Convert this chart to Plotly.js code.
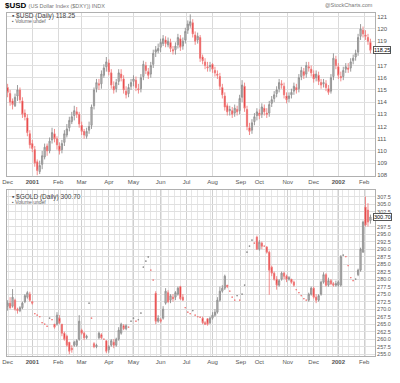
<!DOCTYPE html>
<html><head><meta charset="utf-8">
<script src="https://cdn.plot.ly/plotly-3.0.1.min.js"></script>
<style>html,body{margin:0;padding:0;background:#fff}#chart{width:400px;height:383px}</style>
</head><body><div id="chart"></div>
<script>
// trading calendar (exchange holidays, incl. the Sept 11-14 2001 closure)
const holidays = ['2000-12-25','2001-01-01','2001-01-15','2001-02-19','2001-04-13','2001-05-28','2001-07-04','2001-09-03','2001-09-11','2001-09-12','2001-09-13','2001-09-14','2001-11-22','2001-12-25','2002-01-01','2002-01-21'];
const monthLabels = ['Dec','<b>2001</b>','Feb','Mar','Apr','May','Jun','Jul','Aug','Sep','Oct','Nov','Dec','<b>2002</b>','Feb'];
const usdTicks = [108,109,110,111,112,113,114,115,116,117,118,119,120,121];
const usdTickText = ['108','109','110','111','112','113','114','115','116','117','','119','120','121'];
const goldTicks = [255,257.5,260,262.5,265,267.5,270,272.5,275,277.5,280,282.5,285,287.5,290,292.5,295,297.5,300,302.5,305,307.5];
const goldTickText = ['255.0','257.5','260.0','262.5','265.0','267.5','270.0','272.5','275.0','277.5','280.0','282.5','285.0','287.5','290.0','292.5','295.0','297.5','','302.5','305.0','307.5'];
const usdLast = 118.25, goldLast = 300.70;

// $USD candles (one per two trading days)
const usdOpen = [115.2,114.7,114.1,113.7,114.5,115.0,114.1,113.1,112.7,111.4,
110.6,110.1,109.1,108.3,108.9,109.5,110.4,110.0,110.9,111.4,
111.0,110.4,110.1,110.7,111.3,111.9,112.4,112.9,113.2,113.0,
112.1,111.6,111.2,111.7,112.1,113.7,115.1,115.5,115.5,116.2,
116.9,117.2,116.4,115.3,115.1,115.7,116.3,115.9,114.9,114.7,
115.3,115.7,115.8,115.1,115.1,116.1,117.0,116.5,116.3,117.1,
118.1,118.2,118.5,118.8,119.1,118.7,118.9,118.3,118.3,118.7,
119.2,118.6,119.1,119.9,120.3,120.5,119.5,119.1,119.3,117.7,
117.3,116.9,116.9,117.1,116.6,116.3,116.1,115.2,114.5,113.7,
113.3,113.3,113.1,113.4,113.3,114.4,115.3,113.4,111.9,111.7,
112.4,112.9,113.1,113.0,113.5,113.1,113.1,113.9,114.3,114.7,
115.1,115.5,115.3,114.5,114.3,114.6,114.9,115.2,115.1,116.1,
116.5,116.3,116.9,116.7,116.3,116.0,116.2,115.6,115.5,115.5,
115.1,114.9,116.1,117.5,116.9,116.1,116.1,116.7,116.8,116.8,
117.4,117.7,118.1,119.4,119.9,119.5,119.3,118.9];
const usdHigh = [115.5,115.0,114.3,114.7,115.4,115.2,114.4,113.4,113.0,111.7,
110.9,110.4,109.3,109.2,110.0,110.6,110.6,111.1,111.9,111.8,
111.2,110.7,110.9,111.7,112.2,112.8,113.2,113.7,113.6,113.2,
112.4,111.8,111.9,112.4,113.8,115.2,115.9,115.9,116.6,117.1,
117.7,117.5,116.7,115.7,115.9,116.7,116.7,116.2,115.3,115.5,
115.9,116.2,116.1,115.5,116.3,117.4,117.3,116.8,117.3,118.3,
118.6,118.8,119.2,119.5,119.4,119.3,119.2,118.6,118.9,119.6,
119.5,119.3,120.1,120.7,121.2,120.8,119.8,119.7,119.5,117.9,
117.6,117.3,117.3,117.2,116.9,116.6,116.4,115.5,114.8,113.9,
113.7,113.6,113.8,113.7,114.6,115.8,115.6,113.7,112.3,112.6,
113.1,113.5,113.4,113.9,113.8,113.5,114.1,114.5,114.9,115.3,
115.9,115.8,115.6,114.8,114.8,115.1,115.6,115.5,116.3,116.9,
116.8,117.3,117.3,117.0,116.6,116.6,116.5,115.9,115.9,115.8,
115.4,116.3,118.0,117.8,117.2,116.5,116.9,117.2,117.2,117.6,
117.9,118.3,119.6,120.4,120.2,119.9,119.6,119.2];
const usdLow = [114.4,113.7,113.4,113.6,114.1,113.9,112.7,112.5,111.2,110.2,
109.9,108.7,108.0,108.1,108.5,109.3,109.6,109.8,110.6,110.7,
110.1,109.7,109.8,110.4,111.1,111.6,112.2,112.5,112.7,111.9,
111.3,111.0,111.0,111.4,111.8,113.4,114.8,115.0,115.1,116.0,
116.5,116.2,115.1,114.7,114.8,115.4,115.7,114.7,114.3,114.4,
115.0,115.3,114.9,114.7,114.8,115.8,116.3,115.9,116.0,116.8,
117.7,118.0,118.1,118.6,118.5,118.5,118.1,117.9,117.9,118.4,
118.2,118.3,118.8,119.6,120.1,119.3,118.7,118.8,117.3,117.1,
116.7,116.5,116.5,116.4,116.1,115.9,115.0,114.3,113.3,112.9,
112.9,112.7,112.8,112.9,113.0,114.0,113.2,111.7,111.3,111.4,
112.1,112.5,112.6,112.7,112.9,112.7,112.8,113.6,114.0,114.4,
114.8,115.1,114.3,113.9,114.0,114.3,114.6,114.7,114.8,115.8,
115.9,116.0,116.5,116.1,115.6,115.7,115.4,115.1,115.2,114.9,
114.6,114.7,115.8,116.7,115.9,115.7,115.8,116.4,116.4,116.5,
117.1,117.4,117.8,119.1,119.3,119.1,118.7,118.0];
const usdClose = [114.8,114.0,113.8,114.4,115.0,114.2,113.0,112.8,111.5,110.5,
110.2,109.0,108.4,108.8,109.6,110.3,110.0,110.8,111.5,111.0,
110.5,110.0,110.6,111.4,111.8,112.5,112.8,113.3,113.0,112.2,
111.6,111.3,111.6,112.0,113.6,115.0,115.6,115.4,116.3,116.8,
117.3,116.5,115.4,115.0,115.6,116.4,116.0,115.0,114.6,115.2,
115.6,115.9,115.2,115.0,116.0,117.1,116.6,116.2,117.0,118.0,
118.3,118.4,118.9,119.2,118.8,119.0,118.4,118.2,118.6,119.3,
118.5,119.0,119.8,120.4,120.6,119.6,119.0,119.4,117.6,117.4,
117.0,116.8,117.0,116.7,116.4,116.2,115.3,114.6,113.6,113.2,
113.4,113.0,113.5,113.2,114.3,115.4,113.5,112.0,111.6,112.3,
112.8,113.2,112.9,113.6,113.2,113.0,113.8,114.2,114.6,115.0,
115.6,115.4,114.6,114.2,114.5,114.8,115.3,115.0,116.0,116.6,
116.2,117.0,116.8,116.4,115.9,116.3,115.7,115.4,115.6,115.2,
114.8,116.0,117.6,117.0,116.2,116.0,116.6,116.9,116.7,117.3,
117.6,118.0,119.3,120.0,119.6,119.4,119.0,118.25];

// $GOLD candles (one per two trading days; flat entries are single-price days)
const goldOpen = [271,272,271,273,270,269.5,270.5,272.5,274,275,
272.5,268.5,268,267.5,265.5,265,264.3,267,266.5,265,
265,267,265,262,261,259,257,258,258,260,
263,262,260.5,272,267,258.5,257.5,260.5,261.5,260,
259.5,256.5,258,259,258,260,262,264.5,263.5,264,
266,267,266,266.5,268.7,284,286,287.4,283,279.7,
275.3,266,266.5,267,272,275.5,273,274,274,275,
277.5,274,270.5,269,268.5,269.5,268,267.5,267.3,267,
265.5,266.8,265.5,267,268,269,273,276,277,278,
276,274,273,274.5,273,275,278,289,291,293,
292,294,290,292,291,290.7,289,284,282,280,
278,280,282,281,280,280,279,276.5,275.5,274.5,
273.5,273,273,275,277,274,273,275,279,281.5,
278,279.5,278.5,278,278,278,288,287.5,284.5,280.5,
279.5,280,281.5,283,289,304,303,299.5];
const goldHigh = [273,274,276.7,273.5,270.5,271,272.5,275,276,275.8,
272.5,268.5,268,267.5,265.5,265,264.3,267,266.5,265,
269,268,265,262.5,261.5,259,258,259.5,260,268,
263.5,262.5,261.5,272,267,259,258.5,262.5,262,260,
259.5,258,260,260,260.5,264,265.5,265,265,264,
266,267,266,266.5,268.7,284,286,287.4,283,279.7,
276,268,267,271,277,276.3,275,275,276,277.5,
277.8,275,270.5,269,268.5,269.5,268,267.5,267.3,267.5,
266,267,267.5,269,270,274,277.5,278,281.5,278,
276,274,273,274.5,273,275,278,289,291,293,
292,294.5,293,292.5,291,291,289.5,284.5,282.5,281,
280,282.5,282.5,281.5,281,280,279.5,276.5,275.5,274.5,
273.5,273,275.5,277.5,277.5,275,275,279.5,282.3,282,
280.5,280,279,279.5,279.5,288,288,287.5,284.5,280.5,
279.5,280,283.5,290.5,299.5,307.5,305.3,301.5];
const goldLow = [269.5,270,270.5,269.5,268.5,269,270,272,273.5,272.5,
271.5,268.5,268,267.5,265.5,265,264.3,267,266.5,263.5,
264.5,265,261,259.5,257.5,255,255.5,257.5,257.5,259.5,
261.5,259.7,260,272,267,257,257,260,260,260,
255.3,255.5,257.5,257,257.5,259.5,261.5,263,263,264,
266,267,266,266.5,268.7,284,286,287.4,283,279.7,
265,265.5,265.5,266.5,271.5,272,272,272.5,273,274.5,
273,273,270.5,269,268.5,269.5,268,267.5,267.3,265,
264.7,264.5,265,266.5,267.5,268.5,272.5,275.5,276.4,277,
276,274,273,274.5,273,275,278,289,291,293,
292,289.8,289.5,290,291,288.5,274.8,281,279.5,276.5,
277.5,279.5,280,279,279.5,278.5,277.5,276.5,275.5,274.5,
273.5,273,272.5,274.5,273.5,272,272.5,274.5,278.5,277.5,
277.5,278,277.5,277.5,277.5,277.5,288,287.5,284.5,280.5,
279.5,280,281,282.5,288.8,297.5,297.5,298.5];
const goldClose = [272,270.5,274,270,269.5,270.5,272,274.5,275.5,273,
272,268.5,268,267.5,265.5,265,264.3,267,266.5,264,
268,265.5,262,260,258,256,256.5,259,259.5,266,
262,260.5,261,272,267,257.5,258,262,260.5,260,
256,257.5,259.5,258,260,263,265,263.5,264.5,264,
266,267,266,266.5,268.7,284,286,287.4,283,279.7,
266,267,266,270,276,272.5,274.5,273.5,275.5,277,
273.5,273,270.5,269,268.5,269.5,268,267.5,267.3,265.5,
265,265,267,268,269,273,276,277,281,277.5,
276,274,273,274.5,273,275,278,289,291,293,
292,290,292.3,291,291,289,283,282,280,278,
279.5,282,281,280,280.5,279,278,276.5,275.5,274.5,
273.5,273,275,277,274,273,274.5,279,281.5,278,
279.5,278.5,278,278.5,279,287.5,288,287.5,284.5,280.5,
279.5,280,283,290,299,298,299,300.7];

// ---- calendar helpers ----
function buildDays(){
  const out=[]; const start=Date.UTC(2000,11,1), end=Date.UTC(2002,1,8);
  for(let t=start;t<=end;t+=86400000){
    const d=new Date(t), wd=d.getUTCDay(), s=d.toISOString().slice(0,10);
    if(wd>0&&wd<6&&holidays.indexOf(s)<0) out.push(s);
  }
  return out;
}
const days=buildDays();
const candleDates=days.filter((d,i)=>i%2===0);
const xPos=candleDates.map(d=>days.indexOf(d));
const monthIdx=[]; days.forEach((d,i)=>{ if(i===0||d.slice(0,7)!==days[i-1].slice(0,7)) monthIdx.push(i); });
const weekIdx=[]; days.forEach((d,i)=>{ if(i>0 && new Date(d+'T00:00:00Z').getUTCDay()<=new Date(days[i-1]+'T00:00:00Z').getUTCDay()) weekIdx.push(i); });

const incStyle={line:{color:'#8f8f8f',width:0.9},fillcolor:'#c4c4c4'};
const decStyle={line:{color:'#f08080',width:0.9},fillcolor:'#dd0000'};

const traces=[
 {type:'candlestick',x:xPos,open:usdOpen,high:usdHigh,low:usdLow,close:usdClose,xaxis:'x',yaxis:'y',
  increasing:incStyle,decreasing:decStyle,whiskerwidth:0,hoverinfo:'skip',showlegend:false},
 {type:'candlestick',x:xPos,open:goldOpen,high:goldHigh,low:goldLow,close:goldClose,xaxis:'x2',yaxis:'y2',
  increasing:incStyle,decreasing:decStyle,whiskerwidth:0,hoverinfo:'skip',showlegend:false}
];

const xBase={range:[-0.5,297.7],tickmode:'array',tickvals:monthIdx,ticktext:monthLabels,showgrid:true,
  gridcolor:'#dadada',gridwidth:1,zeroline:false,showline:true,linecolor:'#b0b0b0',mirror:true,ticks:'',
  rangeslider:{visible:false},tickfont:{size:6,color:'#555'},fixedrange:true};
const yBase={side:'right',tickmode:'array',showgrid:true,gridcolor:'#e0e0e0',zeroline:false,showline:true,
  linecolor:'#b0b0b0',mirror:true,ticks:'',tickfont:{size:6,color:'#555'},fixedrange:true};

const layout={
 width:400,height:383,margin:{l:7,r:25,t:13,b:27},paper_bgcolor:'#fff',plot_bgcolor:'#fff',showlegend:false,
 font:{family:'Liberation Sans, Arial, sans-serif',size:6,color:'#555'},
 xaxis:Object.assign({},xBase,{anchor:'y',domain:[0,1]}),
 yaxis:Object.assign({},yBase,{anchor:'x',domain:[0.5248,1],range:[107.94,121.31],tickvals:usdTicks,ticktext:usdTickText}),
 xaxis2:Object.assign({},xBase,{anchor:'y2',domain:[0,1],gridcolor:'#cfcfcf',
   minor:{tickmode:'array',tickvals:weekIdx,showgrid:true,gridcolor:'#e6e6e6',gridwidth:1}}),
 yaxis2:Object.assign({},yBase,{anchor:'x2',domain:[0,0.484],range:[254.4,309.7],tickvals:goldTicks,ticktext:goldTickText,tickfont:{size:5.5,color:'#555'}}),
 annotations:[
  {xref:'paper',yref:'paper',x:-0.01,y:1.0233,xanchor:'left',yanchor:'middle',showarrow:false,
   text:"<b>$USD</b> <span style='font-size:5.5px;color:#777'>(US Dollar Index ($DXY)) INDX</span>",font:{size:8,color:'#000'}},
  {xref:'paper',yref:'paper',x:1,y:1.0233,xanchor:'right',yanchor:'middle',showarrow:false,
   text:'@StockCharts.com',font:{size:5.5,color:'#777'}},
  {xref:'paper',yref:'paper',x:0.008,y:0.9913,xanchor:'left',yanchor:'middle',showarrow:false,
   text:'▪ $USD (Daily) '+usdLast.toFixed(2),font:{size:6.5,color:'#444'}},
  {xref:'paper',yref:'paper',x:0.008,y:0.9767,xanchor:'left',yanchor:'middle',showarrow:false,
   text:'▪ Volume undef',font:{size:5,color:'#666'}},
  {xref:'paper',yref:'paper',x:0.008,y:0.4636,xanchor:'left',yanchor:'middle',showarrow:false,
   text:'▪ $GOLD (Daily) '+goldLast.toFixed(2),font:{size:6.5,color:'#444'}},
  {xref:'paper',yref:'paper',x:0.008,y:0.449,xanchor:'left',yanchor:'middle',showarrow:false,
   text:'▪ Volume undef',font:{size:5,color:'#666'}},
  {xref:'paper',yref:'y',x:1,y:usdLast,xanchor:'left',yanchor:'middle',xshift:-2,showarrow:false,
   text:usdLast.toFixed(2),font:{size:5.5,color:'#000'},bgcolor:'#fff',bordercolor:'#555',borderwidth:1,borderpad:0},
  {xref:'paper',yref:'y2',x:1,y:goldLast,xanchor:'left',yanchor:'middle',xshift:-2,showarrow:false,
   text:goldLast.toFixed(2),font:{size:5.5,color:'#000'},bgcolor:'#fff',bordercolor:'#555',borderwidth:1,borderpad:0}
 ]
};
Plotly.newPlot('chart',traces,layout,{staticPlot:true,displayModeBar:false});
</script>
</body></html>
